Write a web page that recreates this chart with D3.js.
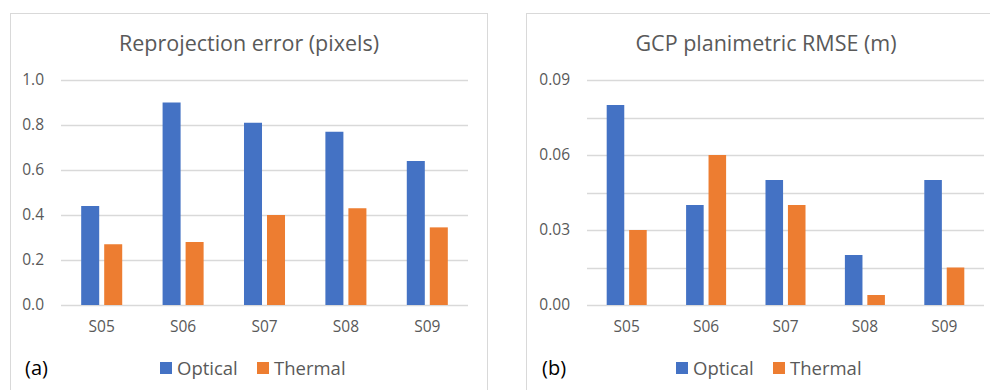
<!DOCTYPE html>
<html>
<head>
<meta charset="utf-8">
<script src="https://cdn.jsdelivr.net/npm/d3@7"></script>
<style>
  body { margin: 0; background: #fff; }
  text { font-family: "Open Sans", "Noto Sans", sans-serif; }
</style>
</head>
<body>
<div id="chart-area"></div>
<script>
const sites = ["S05", "S06", "S07", "S08", "S09"]
const series = ["Optical", "Thermal"]
const colors = ["#4472C4", "#ED7D31"]

const reprojOptical = [0.44, 0.90, 0.81, 0.77, 0.64]
const reprojThermal = [0.27, 0.28, 0.40, 0.43, 0.345]
const reprojTicks = [0, 0.2, 0.4, 0.6, 0.8, 1.0]

const rmseOptical = [0.08, 0.04, 0.05, 0.02, 0.05]
const rmseThermal = [0.03, 0.06, 0.04, 0.004, 0.015]
const rmseGrid = [0, 0.015, 0.03, 0.045, 0.06, 0.075, 0.09]
const rmseLabels = [0, 0.03, 0.06, 0.09]

const totalWidth = 990
const totalHeight = 390

const svg = d3.select("#chart-area")
    .append("svg")
    .attr("width", totalWidth)
    .attr("height", totalHeight)

const panels = [
    {
        frame: {x: 10.5, y: 13.5, w: 477, h: 400},
        plot: {left: 61, right: 468, top: 80, bottom: 305},
        title: "Reprojection error (pixels)", titleX: 249,
        max: 1.0, grid: reprojTicks, labels: reprojTicks, fmt: d3.format(".1f"),
        values: [reprojOptical, reprojThermal],
        tag: "(a)", tagX: 25, legendX: 160
    },
    {
        frame: {x: 526.5, y: 13.5, w: 480, h: 400},
        plot: {left: 587, right: 984, top: 80, bottom: 305},
        title: "GCP planimetric RMSE (m)", titleX: 766,
        max: 0.09, grid: rmseGrid, labels: rmseLabels, fmt: d3.format(".2f"),
        values: [rmseOptical, rmseThermal],
        tag: "(b)", tagX: 542, legendX: 676
    }
]

const drawPanel = function(p) {
    const g = svg.append("g")

    g.append("rect")
        .attr("x", p.frame.x)
        .attr("y", p.frame.y)
        .attr("width", p.frame.w)
        .attr("height", p.frame.h)
        .attr("fill", "#fff")
        .attr("stroke", "#d9d9d9")

    const xScale = d3.scaleBand()
        .domain(sites)
        .range([p.plot.left, p.plot.right])

    const yScale = d3.scaleLinear()
        .domain([0, p.max])
        .range([p.plot.bottom, p.plot.top])

    // bars sit in ~half of each band
    const pairW = xScale.bandwidth() * 0.504
    const x1 = d3.scaleBand()
        .domain(series)
        .range([-pairW / 2, pairW / 2])
        .paddingInner(0.217)

    // gridlines
    g.append("g")
        .selectAll("line")
        .data(p.grid)
        .join("line")
        .attr("x1", p.plot.left)
        .attr("x2", p.plot.right)
        .attr("y1", d => Math.round(yScale(d)) + 0.5)
        .attr("y2", d => Math.round(yScale(d)) + 0.5)
        .attr("stroke", "#d9d9d9")
        .attr("stroke-width", 1.3)

    // y labels
    const yAxis = g.append("g")
        .attr("transform", `translate(${p.plot.left - 17}, 0)`)
        .call(d3.axisLeft(yScale).tickValues(p.labels).tickFormat(p.fmt).tickSize(0).tickPadding(0))
    yAxis.select(".domain").remove()
    yAxis.selectAll("text")
        .attr("font-size", "15.5px")
        .attr("fill", "#595959")
        .style("font-family", '"Open Sans", sans-serif')

    // bars
    series.forEach((s, i) => {
        g.append("g")
            .selectAll("rect")
            .data(p.values[i])
            .join("rect")
            .attr("x", (d, j) => xScale(sites[j]) + xScale.bandwidth() / 2 + x1(s))
            .attr("width", x1.bandwidth())
            .attr("y", d => yScale(d))
            .attr("height", d => yScale(0) - yScale(d))
            .attr("fill", colors[i])
    })

    // x labels
    const xAxis = g.append("g")
        .attr("transform", `translate(0, ${p.plot.bottom})`)
        .call(d3.axisBottom(xScale).tickSize(0).tickPadding(16))
    xAxis.select(".domain").remove()
    xAxis.selectAll("text")
        .attr("font-size", "15.5px")
        .attr("fill", "#595959")
        .style("font-family", '"Open Sans", sans-serif')

    // title
    g.append("text")
        .attr("x", p.titleX)
        .attr("y", 51)
        .attr("text-anchor", "middle")
        .attr("font-size", "21.5px")
        .attr("fill", "#595959")
        .text(p.title)

    // tag
    g.append("text")
        .attr("x", p.tagX)
        .attr("y", 375)
        .attr("font-size", "20px")
        .attr("fill", "#000")
        .text(p.tag)

    // legend
    const legend = g.append("g")
        .attr("transform", `translate(${p.legendX}, 362)`)
    const offsets = [0, 97]
    series.forEach((s, i) => {
        const row = legend.append("g")
            .attr("transform", `translate(${offsets[i]}, 0)`)
        row.append("rect")
            .attr("width", 12)
            .attr("height", 12)
            .attr("fill", colors[i])
        row.append("text")
            .attr("x", 17)
            .attr("y", 12.5)
            .attr("font-size", "18.5px")
            .attr("fill", "#595959")
            .text(s)
    })
}

panels.forEach(drawPanel)
</script>
</body>
</html>
